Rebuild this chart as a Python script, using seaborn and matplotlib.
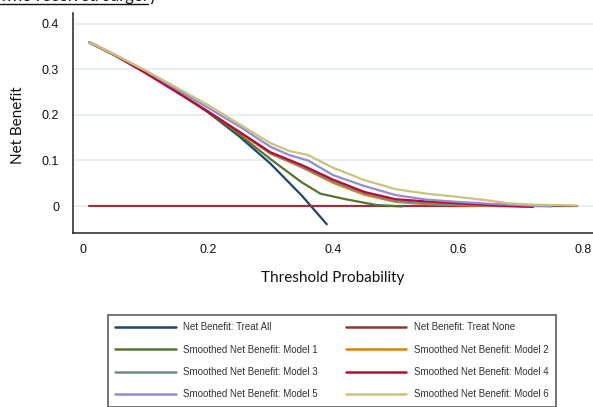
import matplotlib
matplotlib.use("Agg")
import matplotlib.pyplot as plt
import seaborn as sns
import pandas as pd
from matplotlib.lines import Line2D

# values
x_all = [0.01, 0.05, 0.10, 0.15, 0.20, 0.25, 0.30, 0.35, 0.39]
nb_all = [0.359, 0.332, 0.294, 0.253, 0.206, 0.153, 0.093, 0.023, -0.040]

x_none = [0.01, 0.79]
nb_none = [0.0, 0.0]

x_m1 = [0.01, 0.05, 0.10, 0.15, 0.20, 0.25, 0.30, 0.35, 0.38, 0.42, 0.47, 0.51]
nb_m1 = [0.360, 0.332, 0.294, 0.252, 0.207, 0.157, 0.103, 0.052, 0.027, 0.015, 0.002, -0.001]

x_m2 = [0.01, 0.05, 0.10, 0.15, 0.20, 0.25, 0.30, 0.35, 0.40, 0.45, 0.50, 0.55, 0.60, 0.65, 0.71]
nb_m2 = [0.360, 0.332, 0.294, 0.252, 0.208, 0.162, 0.115, 0.085, 0.051, 0.025, 0.009, 0.004, 0.002, 0.000, -0.001]

x_m3 = [0.01, 0.05, 0.10, 0.15, 0.20, 0.25, 0.30, 0.35, 0.40, 0.45, 0.50, 0.55, 0.60, 0.65, 0.70, 0.73]
nb_m3 = [0.360, 0.332, 0.294, 0.252, 0.208, 0.163, 0.116, 0.087, 0.054, 0.028, 0.011, 0.006, 0.003, 0.001, 0.000, 0.000]

x_m4 = [0.01, 0.05, 0.10, 0.15, 0.20, 0.25, 0.30, 0.35, 0.40, 0.45, 0.50, 0.55, 0.60, 0.65, 0.70, 0.72]
nb_m4 = [0.360, 0.332, 0.292, 0.250, 0.207, 0.163, 0.118, 0.090, 0.058, 0.031, 0.015, 0.010, 0.006, 0.002, -0.001, -0.002]

x_m5 = [0.01, 0.05, 0.10, 0.15, 0.20, 0.25, 0.30, 0.33, 0.36, 0.40, 0.45, 0.50, 0.55, 0.60, 0.65, 0.70, 0.75]
nb_m5 = [0.360, 0.333, 0.297, 0.257, 0.216, 0.175, 0.130, 0.112, 0.100, 0.068, 0.044, 0.024, 0.014, 0.009, 0.005, 0.002, -0.001]

x_m6 = [0.01, 0.05, 0.10, 0.15, 0.20, 0.25, 0.30, 0.33, 0.36, 0.40, 0.45, 0.50, 0.55, 0.60, 0.65, 0.68, 0.72, 0.79]
nb_m6 = [0.360, 0.333, 0.298, 0.260, 0.222, 0.180, 0.138, 0.121, 0.112, 0.084, 0.057, 0.037, 0.027, 0.020, 0.012, 0.006, 0.003, 0.001]

labels = ["Net Benefit: Treat All", "Net Benefit: Treat None",
          "Smoothed Net Benefit: Model 1", "Smoothed Net Benefit: Model 2",
          "Smoothed Net Benefit: Model 3", "Smoothed Net Benefit: Model 4",
          "Smoothed Net Benefit: Model 5", "Smoothed Net Benefit: Model 6"]
colors = ["#1a476f", "#90353b", "#55752f", "#e37e00",
          "#6e8e84", "#c10534", "#938dd2", "#cac27e"]
xs = [x_all, x_none, x_m1, x_m2, x_m3, x_m4, x_m5, x_m6]
ys = [nb_all, nb_none, nb_m1, nb_m2, nb_m3, nb_m4, nb_m5, nb_m6]

frames = []
for lab, xv, yv in zip(labels, xs, ys):
    frames.append(pd.DataFrame({"threshold": xv, "net_benefit": yv, "series": lab}))
df = pd.concat(frames, ignore_index=True)

sns.set_style("white")
plt.rcParams["font.family"] = ["Liberation Sans", "DejaVu Sans"]

fig = plt.figure(figsize=(5.93, 4.07), dpi=100)
ax = fig.add_axes([73 / 593, 1 - 233 / 407, 1 - 73 / 593, (233 - 13) / 407])

# gridlines behind the curves
for gy in [0, 0.1, 0.2, 0.3, 0.4]:
    ax.axhline(gy, color="#e6eef0", lw=1.3, zorder=0)

# plotted in legend order, so Model 6 ends up on top
sns.lineplot(data=df, x="threshold", y="net_benefit", hue="series",
             hue_order=labels, palette=colors, lw=1.6, sort=False,
             estimator=None, ax=ax, legend=False)

ax.set_xlim(-0.016, 0.816)
ax.set_ylim(-0.0593, 0.424)
ax.set_xticks([0, 0.2, 0.4, 0.6, 0.8])
ax.set_xticklabels(["0", "0.2", "0.4", "0.6", "0.8"])
ax.set_yticks([0, 0.1, 0.2, 0.3, 0.4])
ax.set_yticklabels(["0", "0.1", "0.2", "0.3", "0.4"])
ax.tick_params(axis="both", direction="out", length=5, width=1, color="#222222",
               labelsize=9, labelcolor="#111111")
ax.tick_params(axis="y", pad=5)
ax.tick_params(axis="x", pad=3)
ax.spines["top"].set_visible(False)
ax.spines["right"].set_visible(False)
for s in ["left", "bottom"]:
    ax.spines[s].set_color("#222222")
    ax.spines[s].set_linewidth(1.1)

ax.set_xlabel("")
ax.set_ylabel("")
fig.text(333 / 593, 1 - 278 / 407, "Threshold Probability", ha="center", va="center",
         fontsize=11, family=["Lato", "DejaVu Sans"], color="#111111")
fig.text(18 / 593, 1 - 125 / 407, "Net Benefit", ha="center", va="center",
         rotation=90, fontsize=11, family=["Lato", "DejaVu Sans"], color="#111111")

# truncated heading at the very top (cut off in the source image too)
fig.text(0.0, 1 - 1.5 / 407, "who received surgery", ha="left", va="baseline",
         fontsize=12, family=["Lato", "DejaVu Sans"], color="#111111")
fig.add_artist(Line2D([0, 148 / 593], [1 - 3.5 / 407, 1 - 3.5 / 407],
                      transform=fig.transFigure, color="#111111", lw=1))

# legend laid out row by row like the reference (two columns)
order = [0, 2, 4, 6, 1, 3, 5, 7]
handles = [Line2D([], [], color=colors[i], lw=1.8) for i in order]
leg = fig.legend(handles, [labels[i] for i in order], ncol=2,
                 loc="upper left", bbox_to_anchor=(108 / 593, 1 - 315 / 407),
                 frameon=True, fancybox=False, edgecolor="#444444",
                 fontsize=7, handlelength=6.2, handletextpad=0.8,
                 columnspacing=2.9, labelspacing=1.27, borderpad=0.75,
                 borderaxespad=0)
leg.get_frame().set_linewidth(1.3)
for t in leg.get_texts():
    t.set_color("#333333")

fig.savefig("out.png", dpi=100)
